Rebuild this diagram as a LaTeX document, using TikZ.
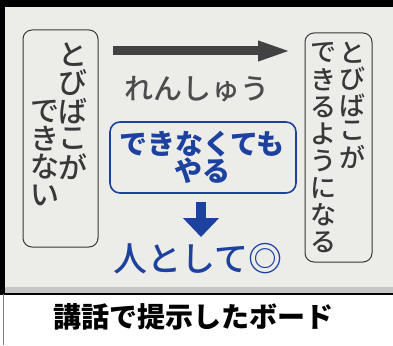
\documentclass[tikz,border=0pt]{standalone}
\usepackage{fontspec}
\newfontfamily\jp{Noto Sans CJK JP}
\newfontfamily\jpm{Noto Sans CJK JP Medium}
\usetikzlibrary{calc}
\usetikzlibrary{arrows.meta}

\definecolor{boardblue}{HTML}{1C419E}
\definecolor{inkgray}{HTML}{383838}
\definecolor{boardbg}{HTML}{ECECE9}

\tikzset{
  leftkana/.style={font=\jpm\fontsize{29}{29}\selectfont, text=inkgray, inner sep=0pt},
  rightkana/.style={font=\jpm\fontsize{26}{26}\selectfont, text=inkgray, inner sep=0pt},
  sidebox/.style={draw=inkgray, line width=1pt, rounded corners=9pt},
}

\begin{document}
\begin{tikzpicture}[x=1pt,y=-1pt]
            % Picture frame and board
            \useasboundingbox (0,0) rectangle (393,345);
            \fill[white] (0,0) rectangle (393,345);
            \fill[boardbg] (0,0) rectangle (393,294);
            \fill[gray!45] (5,287) rectangle (393,293);
            \fill[black] (0,0) rectangle (393,7);
            \fill[black] (0,0) rectangle (5,294);
            \draw[line width=2.5pt] (0,294) -- (393,294);
            \draw[gray, line width=1pt] (3,294) -- (3,345);

            % Define the columns of the side boxes
            \def\lstep{28}
            \def\rstep{26}

            % Draw the left box
            \draw[sidebox] (23,30) rectangle (98,247);
            \foreach \ch [count=\i from 0] in {と,び,ば,こ,が}
              \node[leftkana] (lA\i) at (73, 55+\lstep*\i) {\ch};
            \foreach \ch [count=\i from 0] in {で,き,な,い}
              \node[leftkana] (lB\i) at (45, 111+\lstep*\i) {\ch};

            % Draw the right box
            \draw[sidebox] (305,33) rectangle (372,262);
            \foreach \ch [count=\i from 0] in {と,び,ば,こ,が}
              \node[rightkana] (rA\i) at (352, 53+\rstep*\i) {\ch};
            \foreach \ch [count=\i from 0] in {で,き,る,よ,う,に,な,る}
              \node[rightkana] (rB\i) at (323, 53+27*\i) {\ch};

            % Draw the practice arrow
            \coordinate (pstart) at (113,51);
            \coordinate (pend) at (292,51);
            \draw[line width=9pt, color=inkgray!95, -{Triangle[length=34pt,width=18pt]}] (pstart) -- (pend);
            \node[font=\jpm\fontsize{29}{29}\selectfont, text=inkgray!90, inner sep=0pt] (practice) at (197,89) {れんしゅう};

            % Draw the blue box
            \draw[boardblue, line width=1.6pt, rounded corners=10pt] (110,122) rectangle (296,193);
            \node[font=\jp\bfseries\fontsize{28}{22}\selectfont, text=boardblue, inner sep=0pt, align=center] (try) at (202,157) {できなくても\\やる};

            % Draw the result
            \coordinate (dstart) at (201,202);
            \coordinate (dend) at (201,237);
            \draw[line width=10pt, color=boardblue, -{Triangle[length=19pt,width=35pt]}] (dstart) -- (dend);
            \node[font=\jpm\fontsize{34}{34}\selectfont, text=boardblue, inner sep=0pt] (human) at (198,259) {人として◎};

            % Caption
            \node[font=\jp\bfseries\fontsize{28}{28}\selectfont, inner sep=0pt] (caption) at (193,317) {講話で提示したボード};
        \end{tikzpicture}
\end{document}
